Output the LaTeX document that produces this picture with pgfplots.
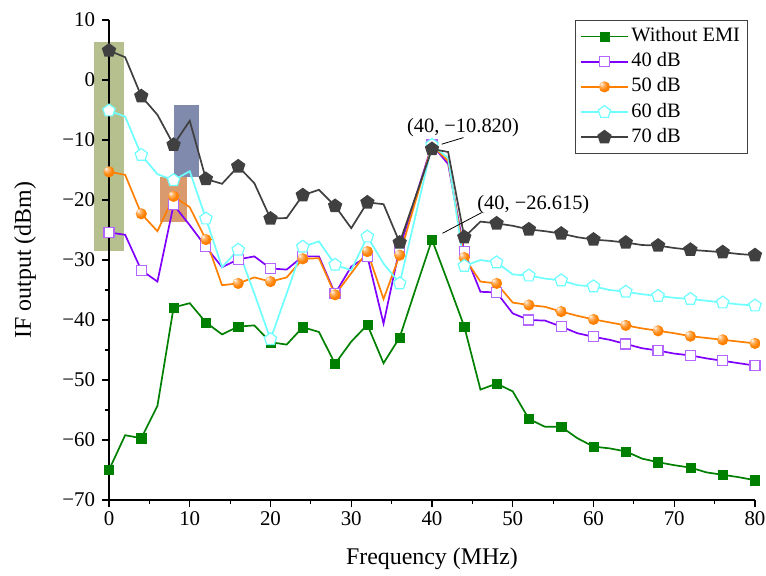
\documentclass[border=0pt]{standalone}
\usepackage{pgfplots}
\pgfplotsset{compat=1.18}
\usepackage{pgfplotstable}
\usepackage{fontspec}
\setmainfont{Liberation Serif}
\usetikzlibrary{plotmarks}

\definecolor{cgreen}{RGB}{0,128,0}
\definecolor{cpurple}{RGB}{128,0,255}
\definecolor{cpurplel}{RGB}{178,102,255}
\definecolor{corange}{RGB}{255,128,0}
\definecolor{ccyan}{RGB}{110,255,255}
\definecolor{cdark}{RGB}{64,64,64}
\definecolor{rolive}{RGB}{181,192,142}
\definecolor{rorange}{RGB}{217,155,110}
\definecolor{rblue}{RGB}{127,138,173}

\pgfdeclareradialshading{oballshade}{\pgfpoint{-15bp}{15bp}}{%
  color(0bp)=(white); color(9bp)=(corange!55!white); color(22bp)=(corange);
  color(40bp)=(corange); color(50bp)=(corange!92!black)}
\pgfdeclareplotmark{oball}{%
  \pgfpathcircle{\pgfpointorigin}{\pgfplotmarksize}%
  \pgfshadepath{oballshade}{0}%
  \pgfusepath{discard}}

\pgfplotstableread{
x g d40 d50 d60 d70
0 -65.0 -25.4 -15.3 -5.1 4.9
2 -59.2 -25.8 -15.8 -6.1 3.8
4 -59.7 -31.7 -22.3 -12.5 -2.7
6 -54.3 -33.6 -25.2 -15.7 -5.8
8 -37.9 -20.8 -19.4 -16.7 -10.8
10 -37.2 -24.2 -21.2 -15.2 -6.8
12 -40.4 -27.8 -26.6 -23.1 -16.5
14 -42.4 -31.2 -34.2 -31.2 -17.3
16 -41.1 -29.9 -33.9 -28.3 -14.4
18 -40.9 -29.4 -32.9 -35.6 -17.2
20 -43.7 -31.4 -33.6 -43.2 -23.1
22 -44.1 -31.6 -32.9 -35.6 -23.0
24 -41.2 -29.4 -29.8 -27.8 -19.2
26 -42.0 -29.4 -29.7 -26.9 -18.3
28 -47.3 -35.6 -35.8 -30.8 -21.0
30 -43.6 -31.1 -32.2 -31.7 -24.7
32 -40.8 -29.4 -28.6 -26.1 -20.4
34 -47.2 -40.6 -36.5 -30.6 -20.7
36 -42.9 -28.0 -29.2 -33.9 -27.1
38 -34.7 -19.4 -20.0 -22.4 -19.3
40 -26.615 -10.8 -10.9 -10.82 -11.5
42 -33.8 -14.0 -13.5 -13.0 -12.0
44 -41.1 -28.6 -29.6 -31.0 -26.2
46 -51.6 -35.3 -33.6 -30.0 -23.6
48 -50.6 -35.4 -33.9 -30.4 -23.9
50 -51.9 -38.9 -37.1 -32.4 -24.3
52 -56.5 -40.0 -37.5 -32.6 -24.9
54 -57.8 -40.1 -37.8 -33.1 -25.2
56 -57.8 -41.1 -38.6 -33.4 -25.6
58 -59.7 -42.2 -39.3 -34.2 -26.2
60 -61.1 -42.8 -39.9 -34.4 -26.6
62 -61.4 -43.3 -40.4 -35.0 -26.8
64 -61.9 -44.0 -40.9 -35.3 -27.1
66 -63.1 -44.7 -41.4 -35.7 -27.5
68 -63.7 -45.1 -41.8 -36.0 -27.6
70 -64.2 -45.6 -42.2 -36.3 -28.0
72 -64.6 -45.9 -42.7 -36.5 -28.3
74 -65.4 -46.4 -43.0 -36.8 -28.5
76 -65.8 -46.8 -43.3 -37.1 -28.7
78 -66.2 -47.2 -43.6 -37.4 -29.0
80 -66.7 -47.6 -43.9 -37.6 -29.2
}\datatable

\begin{document}
\begin{tikzpicture}
\begin{axis}[
  at={(0,0)}, anchor=south west,
  scale only axis, width=646bp, height=480bp,
  xmin=0, xmax=80, ymin=-70, ymax=10,
  clip=false,
  set layers,
  axis lines*=left,
  axis line style={line width=1.3bp, black},
  every tick/.style={line width=1.2bp, black},
  tick align=outside,
  major tick length=7bp, minor tick length=4bp,
  xtick={0,10,...,80}, minor x tick num=1,
  ytick={-70,-60,...,10}, minor y tick num=1,
  yticklabels={−70,−60,−50,−40,−30,−20,−10,0,10},
  /pgf/number format/assume math mode=true,
  ticklabel style={font=\fontsize{21}{25}\selectfont},
  xticklabel style={yshift=-1bp},
  yticklabel style={xshift=-3.5bp},
  xlabel={Frequency (MHz)},
  ylabel={IF output (dBm)},
  label style={font=\fontsize{24}{28}\selectfont},
  xlabel style={at={(axis description cs:0.5,-0.122)}, anchor=center},
  ylabel style={at={(axis description cs:-0.130,0.5)}, anchor=center},
  legend cell align=left,
  legend style={at={(0.989,1)}, anchor=north east, draw=cdark, line width=0.8bp,
    font=\fontsize{20.5}{24}\selectfont, inner xsep=5bp, inner ysep=3.5bp,
    row sep=0bp,
    nodes={inner ysep=3.6bp, inner xsep=2.5bp, text height=14bp, text depth=4bp}},
  legend image code/.code={\draw[#1,mark repeat=2,mark phase=2] plot coordinates {(0bp,0bp) (23.5bp,0bp) (47bp,0bp)};},
]
% highlight rectangles
\addplot[fill=rolive, draw=none, forget plot, on layer=axis background] coordinates {(-1.86,6.28) (1.86,6.28) (1.86,-28.5) (-1.86,-28.5)} -- cycle;
\addplot[fill=rorange, draw=none, forget plot, on layer=axis background] coordinates {(6.32,-16.2) (9.62,-16.2) (9.62,-23.7) (6.32,-23.7)} -- cycle;
\addplot[fill=rblue, draw=none, forget plot, on layer=axis background] coordinates {(8.05,-4.2) (11.15,-4.2) (11.15,-16.2) (8.05,-16.2)} -- cycle;

\addplot[color=cgreen, line width=1.7bp, mark=square*, mark repeat=2, mark size=4.6bp,
  mark options={fill=cgreen, draw=cgreen, line width=0.5bp}] table[x=x,y=g] {\datatable};
\addlegendentry{Without EMI}
\addplot[color=cpurple, line width=1.7bp, mark=square*, mark repeat=2, mark size=5bp,
  mark options={fill=white, draw=cpurplel, line width=1.2bp}] table[x=x,y=d40] {\datatable};
\addlegendentry{40 dB}
\addplot[color=corange, line width=1.7bp, mark=oball, mark repeat=2, mark size=5.6bp] table[x=x,y=d50] {\datatable};
\addlegendentry{50 dB}
\addplot[color=ccyan, line width=1.7bp, mark=pentagon*, mark repeat=2, mark size=6.5bp,
  mark options={fill=white, draw=ccyan, line width=1.2bp}] table[x=x,y=d60] {\datatable};
\addlegendentry{60 dB}
\addplot[color=cdark, line width=1.7bp, mark=pentagon*, mark repeat=2, mark size=6.5bp,
  mark options={fill=cdark, draw=cdark}] table[x=x,y=d70] {\datatable};
\addlegendentry{70 dB}

% annotations
\draw[line width=0.8bp] (axis cs:41.2,-10.7) -- (axis cs:43.9,-9.6);
\node[font=\fontsize{20.5}{24}\selectfont, anchor=center] at (axis cs:43.84,-7.95) {(40, −10.820)};
\draw[line width=0.8bp] (axis cs:41.3,-25.55) -- (axis cs:46.15,-22.1);
\node[font=\fontsize{20.5}{24}\selectfont, anchor=center] at (axis cs:52.55,-20.7) {(40, −26.615)};
\end{axis}
\pgfresetboundingbox
\path[use as bounding box] (-109bp,-76bp) rectangle (657bp,500bp);
\end{tikzpicture}
\end{document}
